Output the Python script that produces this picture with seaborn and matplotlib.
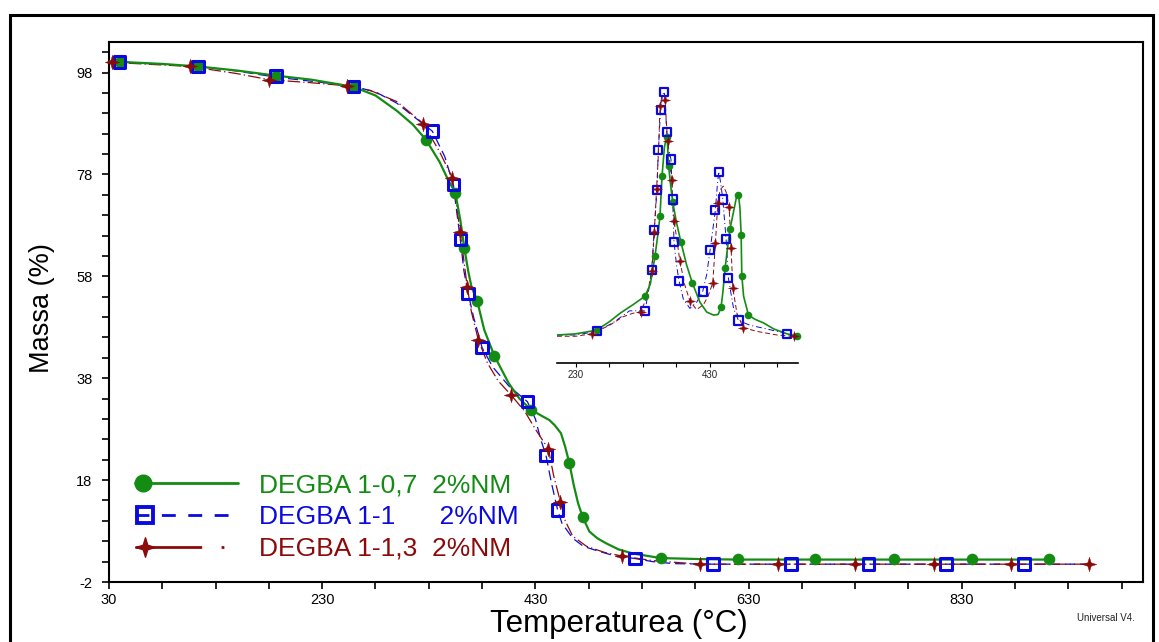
import numpy as np
import matplotlib
matplotlib.use("Agg")
import matplotlib.pyplot as plt
import seaborn as sns
from matplotlib.lines import Line2D
from matplotlib.path import Path
from matplotlib.patches import Rectangle
from matplotlib.legend_handler import HandlerLine2D
from matplotlib.ticker import FixedLocator

# ---------------- data ----------------
series_labels = ["DEGBA 1-0,7  2%NM", "DEGBA 1-1      2%NM", "DEGBA 1-1,3  2%NM"]

# main TGA curves: temperature (°C) and mass (%)
g_T = [30, 40, 80, 113.6, 150, 186.5, 220, 259.4, 280, 300, 315, 327.4, 340, 348, 354.9, 359.6, 363.3,
       367, 370, 375.5, 382, 391.5, 405, 415, 426, 436, 443, 448, 454, 458, 461.9, 466, 470, 474.4,
       480.7, 488, 496.3, 508, 521.3, 547.4, 584, 620, 700, 800, 915]
g_M = [100.2, 100.1, 99.7, 99.2, 98.4, 97.4, 96.6, 95.2, 93.5, 90.5, 87.8, 84.8, 80.5, 77.0, 74.4, 69.0, 63.6,
       59.0, 56.0, 53.1, 47.5, 42.4, 37.0, 34.0, 31.8, 30.6, 29.8, 28.8, 27.2, 24.5, 21.3, 17.0, 13.5, 10.7,
       7.9, 6.6, 5.6, 4.4, 3.6, 2.7, 2.5, 2.4, 2.4, 2.4, 2.4]

b_T = [30, 40, 80, 113.6, 150, 186.5, 220, 259.4, 280, 300, 315, 333.3, 345, 353, 356, 359.6, 363, 367,
       372, 380, 390, 405, 422.5, 430, 435, 440, 445, 450.9, 455, 465, 475, 490, 505, 523.6, 540, 560,
       596.8, 700, 800, 950]
b_M = [100.2, 100.1, 99.6, 99.2, 98.3, 97.1, 96.3, 95.3, 94.2, 92.0, 89.5, 86.5, 81.5, 76.0, 71.0, 65.2, 59.0, 54.6,
       50.0, 44.0, 40.2, 36.5, 33.4, 30.0, 26.0, 22.8, 17.5, 12.1, 9.5, 6.6, 5.0, 4.0, 3.1, 2.6, 2.0, 1.6,
       1.5, 1.5, 1.5, 1.5]

r_T = [30, 32.8, 70, 106, 150, 180.2, 220, 253.5, 275, 300, 324.8, 340, 352, 356, 359.3, 363, 366, 370,
       376.5, 385, 395, 407.2, 420, 430, 442.2, 447, 453.5, 458, 465, 478, 495, 511, 540, 584, 700, 800, 950]
r_M = [100.1, 100.0, 99.6, 99.2, 97.8, 96.6, 96.0, 95.4, 94.5, 92.3, 88.0, 82.5, 77.4, 72.0, 66.8, 61.0, 56.0, 51.0,
       45.5, 41.0, 37.5, 34.7, 31.5, 28.0, 24.1, 19.0, 13.7, 10.0, 7.0, 5.0, 3.8, 3.1, 2.2, 1.5, 1.5, 1.5, 1.5]

# marker positions on the main curves
g_mT = [40, 113.6, 186.5, 259.4, 327.4, 354.9, 363.3, 375.5, 391.5, 426, 461.9, 474.4, 547.4, 619.7, 692.5, 766, 839.4, 911.7]
g_mM = [100.1, 99.2, 97.4, 95.2, 84.8, 74.4, 63.6, 53.1, 42.4, 31.8, 21.3, 10.7, 2.7, 2.5, 2.5, 2.5, 2.5, 2.5]
b_mT = [40, 113.6, 186.5, 259.4, 333.3, 353, 359.6, 367, 380, 422.5, 440, 450.9, 523.6, 596.8, 669.6, 742.5, 815.3, 888.1]
b_mM = [100.1, 99.2, 97.3, 95.3, 86.5, 76.0, 65.2, 54.6, 44.0, 33.4, 22.8, 12.1, 2.6, 1.5, 1.5, 1.5, 1.5, 1.5]
r_mT = [32.8, 106, 180.2, 253.5, 324.8, 352, 359.3, 366, 376.5, 407.2, 442.2, 453.5, 511, 584, 657.9, 730, 803.5, 876.3, 949.7]
r_mM = [100.0, 99.2, 96.6, 95.4, 88.0, 77.4, 66.8, 56.0, 45.5, 34.7, 24.1, 13.7, 3.1, 1.5, 1.5, 1.5, 1.5, 1.5, 1.5]

# inset DTG curves: temperature (°C) and derivative (arbitrary units)
gi_T = [202, 230, 261, 280, 296, 315, 333, 341, 347.9, 352, 355.4, 358.4, 362, 365.8, 368.3, 371, 374.3, 380,
        386.5, 395, 403.6, 415, 425, 435, 442, 446.4, 449, 452.4, 456, 459.9, 465, 469, 472.3, 474.5, 476.3,
        477.3, 480, 487.2, 497, 509.6, 525, 544.5, 561]
gi_D = [0.0, 0.01, 0.04, 0.11, 0.18, 0.25, 0.32, 0.42, 0.65, 0.82, 0.98, 1.31, 1.55, 1.66, 1.40, 1.25, 1.10, 0.93,
        0.77, 0.58, 0.43, 0.27, 0.19, 0.165, 0.17, 0.23, 0.35, 0.55, 0.72, 0.88, 1.02, 1.13, 1.16, 1.05, 0.83,
        0.49, 0.32, 0.165, 0.13, 0.10, 0.05, 0.01, -0.01]
bi_T = [202, 230, 261, 285, 310, 333, 338, 343, 346.9, 350.9, 352.9, 356.4, 359, 361.8, 363.5, 365.3, 368, 371.8,
        374.3, 376.3, 380, 383.7, 390, 400, 410, 419, 425, 430, 437.9, 441, 443, 446, 449, 453.9, 457.3, 465,
        472.3, 490, 515, 544.5, 561]
bi_D = [0.0, 0.0, 0.03, 0.10, 0.20, 0.20, 0.35, 0.54, 0.87, 1.20, 1.53, 1.86, 1.98, 2.01, 1.90, 1.68, 1.55, 1.45,
        1.12, 0.77, 0.58, 0.45, 0.30, 0.22, 0.27, 0.36, 0.50, 0.70, 1.03, 1.25, 1.35, 1.25, 1.12, 0.79, 0.47, 0.22,
        0.12, 0.08, 0.05, 0.01, -0.01]
ri_T = [202, 230, 253.4, 280, 300, 315, 326.5, 335, 343.4, 346.9, 350.4, 353.4, 355.4, 358, 360, 362.8, 366.8,
        372.7, 376.6, 385.1, 392, 400, 410, 420, 427, 434, 438, 441.5, 445, 449.8, 454, 458.4, 461.3, 463.9, 470,
        479.7, 500, 530, 554.3, 561]
ri_D = [-0.01, -0.01, 0.01, 0.08, 0.15, 0.18, 0.19, 0.30, 0.53, 0.85, 1.21, 1.53, 1.89, 1.97, 1.98, 1.94, 1.60,
        1.28, 0.94, 0.61, 0.42, 0.28, 0.21, 0.25, 0.32, 0.43, 0.76, 1.09, 1.20, 1.23, 1.18, 1.06, 0.72, 0.39, 0.18,
        0.06, 0.03, 0.0, -0.01, -0.01]

gi_mT = [261, 333, 347.9, 355.4, 358.4, 365.8, 368.3, 374.3, 386.5, 403.6, 446.4, 452.4, 459.9, 472.3, 476.3, 477.3, 487.2, 559.4]
gi_mD = [0.04, 0.32, 0.65, 0.98, 1.31, 1.64, 1.40, 1.10, 0.77, 0.43, 0.23, 0.55, 0.88, 1.16, 0.83, 0.49, 0.165, -0.01]
bi_mT = [261, 333, 343, 346.9, 350.9, 352.9, 356.4, 361.8, 365.3, 371.8, 374.3, 376.3, 383.7, 419, 430, 437.9, 443,
         449, 453.9, 457.3, 472.3, 544.5]
bi_mD = [0.03, 0.20, 0.54, 0.87, 1.20, 1.53, 1.86, 2.01, 1.68, 1.45, 1.12, 0.77, 0.45, 0.36, 0.70, 1.03, 1.35,
         1.12, 0.79, 0.47, 0.12, 0.01]
ri_mT = [253.4, 326.5, 343.4, 346.9, 350.4, 355.4, 362.8, 366.8, 372.7, 376.6, 385.1, 400, 434, 438, 441.5, 458.4,
         461.3, 463.9, 479.7, 554.3]
ri_mD = [0.01, 0.19, 0.53, 0.85, 1.21, 1.89, 1.94, 1.60, 1.28, 0.94, 0.61, 0.28, 0.43, 0.76, 1.09, 1.06, 0.72,
         0.39, 0.06, -0.01]

x_major = [30, 230, 430, 630, 830]
y_major = [-2, 18, 38, 58, 78, 98]
inset_major = [230, 430]

# ---------------- style ----------------
sns.set_theme(style="white")
plt.rcParams['font.family'] = ['Liberation Sans', 'DejaVu Sans']

GREEN = '#148c14'
BLUE = '#0a0ae0'
RED = '#8c0a0a'
BLUE_DASH = (0, (8, 4))
RED_DASH = (0, (10, 2.5, 1, 2.5))
STAR = Path.unit_regular_star(4, 0.33)

W, H = 1159, 642
fig = plt.figure(figsize=(W / 100, H / 100), dpi=100)
fx = lambda px: px / W
fy = lambda py: 1 - py / H

# outer border
fig.patches.append(Rectangle((fx(10), fy(660)), fx(1153) - fx(10), fy(15) - fy(660),
                             transform=fig.transFigure, fill=False, lw=2.2, ec='black', clip_on=False))

ax = fig.add_axes([fx(109), fy(582), fx(1143) - fx(109), fy(42) - fy(582)])
ax.set_facecolor('white')

sns.lineplot(x=g_T, y=g_M, ax=ax, color=GREEN, lw=1.6, sort=False, estimator=None, zorder=3)
sns.lineplot(x=b_T, y=b_M, ax=ax, color=BLUE, lw=0.9, linestyle=BLUE_DASH, sort=False, estimator=None, zorder=2)
sns.lineplot(x=r_T, y=r_M, ax=ax, color=RED, lw=0.9, linestyle=RED_DASH, sort=False, estimator=None, zorder=2)

sns.scatterplot(x=g_mT, y=g_mM, ax=ax, marker='o', s=70, color=GREEN, edgecolor=GREEN, linewidth=0, zorder=4, clip_on=False)
sns.scatterplot(x=b_mT, y=b_mM, ax=ax, marker='s', s=70, facecolor='none', edgecolor=BLUE, linewidth=2.2, zorder=5, clip_on=False)
sns.scatterplot(x=r_mT, y=r_mM, ax=ax, marker=STAR, s=110, color=RED, edgecolor=RED, linewidth=0.3, zorder=6, clip_on=False)

ax.set_xlim(30, 1000)
ax.set_ylim(-2, 104)
ax.xaxis.set_major_locator(FixedLocator(x_major))
ax.xaxis.set_minor_locator(FixedLocator(np.arange(30, 1001, 50)))
ax.yaxis.set_major_locator(FixedLocator(y_major))
ax.yaxis.set_minor_locator(FixedLocator(np.arange(-2, 104, 4)))
ax.set_xticklabels([str(v) for v in x_major])
ax.set_yticklabels([str(v) for v in y_major])
ax.tick_params(axis='both', which='both', direction='out', length=5, width=1.2, color='black',
               labelsize=10.5, labelcolor='black')
ax.tick_params(axis='y', which='both', pad=7, left=True)
ax.tick_params(axis='x', which='both', pad=3, bottom=True)
for sp in ax.spines.values():
    sp.set_visible(True)
    sp.set_color('black')
    sp.set_linewidth(1.5)
ax.set_xlabel('')
ax.set_ylabel('')

fig.text(fx(42), fy(308), 'Massa (%)', rotation=90, ha='center', va='center', fontsize=19.5, color='black')
fig.text(fx(619), fy(632), 'Temperaturea (°C)', ha='center', va='baseline', fontsize=22.5, color='black')
fig.text(fx(1077), fy(618), 'Universal V4.', ha='left', va='center', fontsize=7, color='#222222')

# ---------------- legend ----------------
class LeftMarkerHandler(HandlerLine2D):
    def __init__(self, frac=0.08, **kw):
        super().__init__(**kw)
        self.frac = frac

    def create_artists(self, legend, orig_handle, xdescent, ydescent, width, height, fontsize, trans):
        y = (height - ydescent) / 2.0
        x0, x1 = -xdescent, -xdescent + width
        line = Line2D([x0, x1], [y, y])
        self.update_prop(line, orig_handle, legend)
        line.set_marker('None')
        mk = Line2D([x0 + self.frac * width], [y])
        self.update_prop(mk, orig_handle, legend)
        mk.set_linestyle('None')
        line.set_transform(trans)
        mk.set_transform(trans)
        return [line, mk]

h_g = Line2D([], [], color=GREEN, lw=2.0, marker='o', ms=12, mec=GREEN, mfc=GREEN)
h_b = Line2D([], [], color=BLUE, lw=2.0, linestyle=(0, (5, 4.5)), marker='s', ms=11, mec=BLUE, mfc='none', mew=2.8)
h_r = Line2D([], [], color=RED, lw=2.0, linestyle=(0, (24, 7, 1, 20)), marker=STAR, ms=14, mec=RED, mfc=RED)
leg = ax.legend([h_g, h_b, h_r], series_labels, loc='upper left',
                bbox_to_anchor=(fx(135), fy(473)), bbox_transform=fig.transFigure,
                frameon=False, fontsize=19, handlelength=3.9, handletextpad=0.8,
                labelspacing=0.3, borderpad=0, borderaxespad=0,
                handler_map={h_g: LeftMarkerHandler(0.08), h_b: LeftMarkerHandler(0.1), h_r: LeftMarkerHandler(0.1)})
for t, c in zip(leg.get_texts(), [GREEN, BLUE, RED]):
    t.set_color(c)

# ---------------- inset ----------------
axi = fig.add_axes([fx(557), fy(363), fx(798) - fx(557), fy(80) - fy(363)])
axi.patch.set_alpha(0)
sns.lineplot(x=gi_T, y=gi_D, ax=axi, color=GREEN, lw=1.2, sort=False, estimator=None, zorder=3)
sns.lineplot(x=bi_T, y=bi_D, ax=axi, color=BLUE, lw=0.7, linestyle=(0, (6, 3, 1, 3)), sort=False, estimator=None, zorder=2)
sns.lineplot(x=ri_T, y=ri_D, ax=axi, color=RED, lw=0.7, linestyle=(0, (5, 3)), sort=False, estimator=None, zorder=2)
sns.scatterplot(x=gi_mT, y=gi_mD, ax=axi, marker='o', s=30, color=GREEN, edgecolor=GREEN, linewidth=0, zorder=4, clip_on=False)
sns.scatterplot(x=bi_mT, y=bi_mD, ax=axi, marker='s', s=34, facecolor='none', edgecolor=BLUE, linewidth=1.6, zorder=5, clip_on=False)
sns.scatterplot(x=ri_mT, y=ri_mD, ax=axi, marker=STAR, s=55, color=RED, edgecolor=RED, linewidth=0.2, zorder=6, clip_on=False)
axi.set_xlim(202, 561)
axi.set_ylim(-0.231, 2.107)
axi.xaxis.set_major_locator(FixedLocator(inset_major))
axi.xaxis.set_minor_locator(FixedLocator(np.arange(230, 561, 50)))
axi.set_xticklabels([str(v) for v in inset_major])
axi.set_yticks([])
for side in ['left', 'right', 'top']:
    axi.spines[side].set_visible(False)
axi.spines['bottom'].set_color('black')
axi.spines['bottom'].set_linewidth(1.2)
axi.tick_params(axis='x', which='both', direction='out', length=3, width=0.8, color='black',
                labelsize=7, pad=2, bottom=True)
axi.set_xlabel('')
axi.set_ylabel('')

fig.savefig('out.png', dpi=100, facecolor='white')
